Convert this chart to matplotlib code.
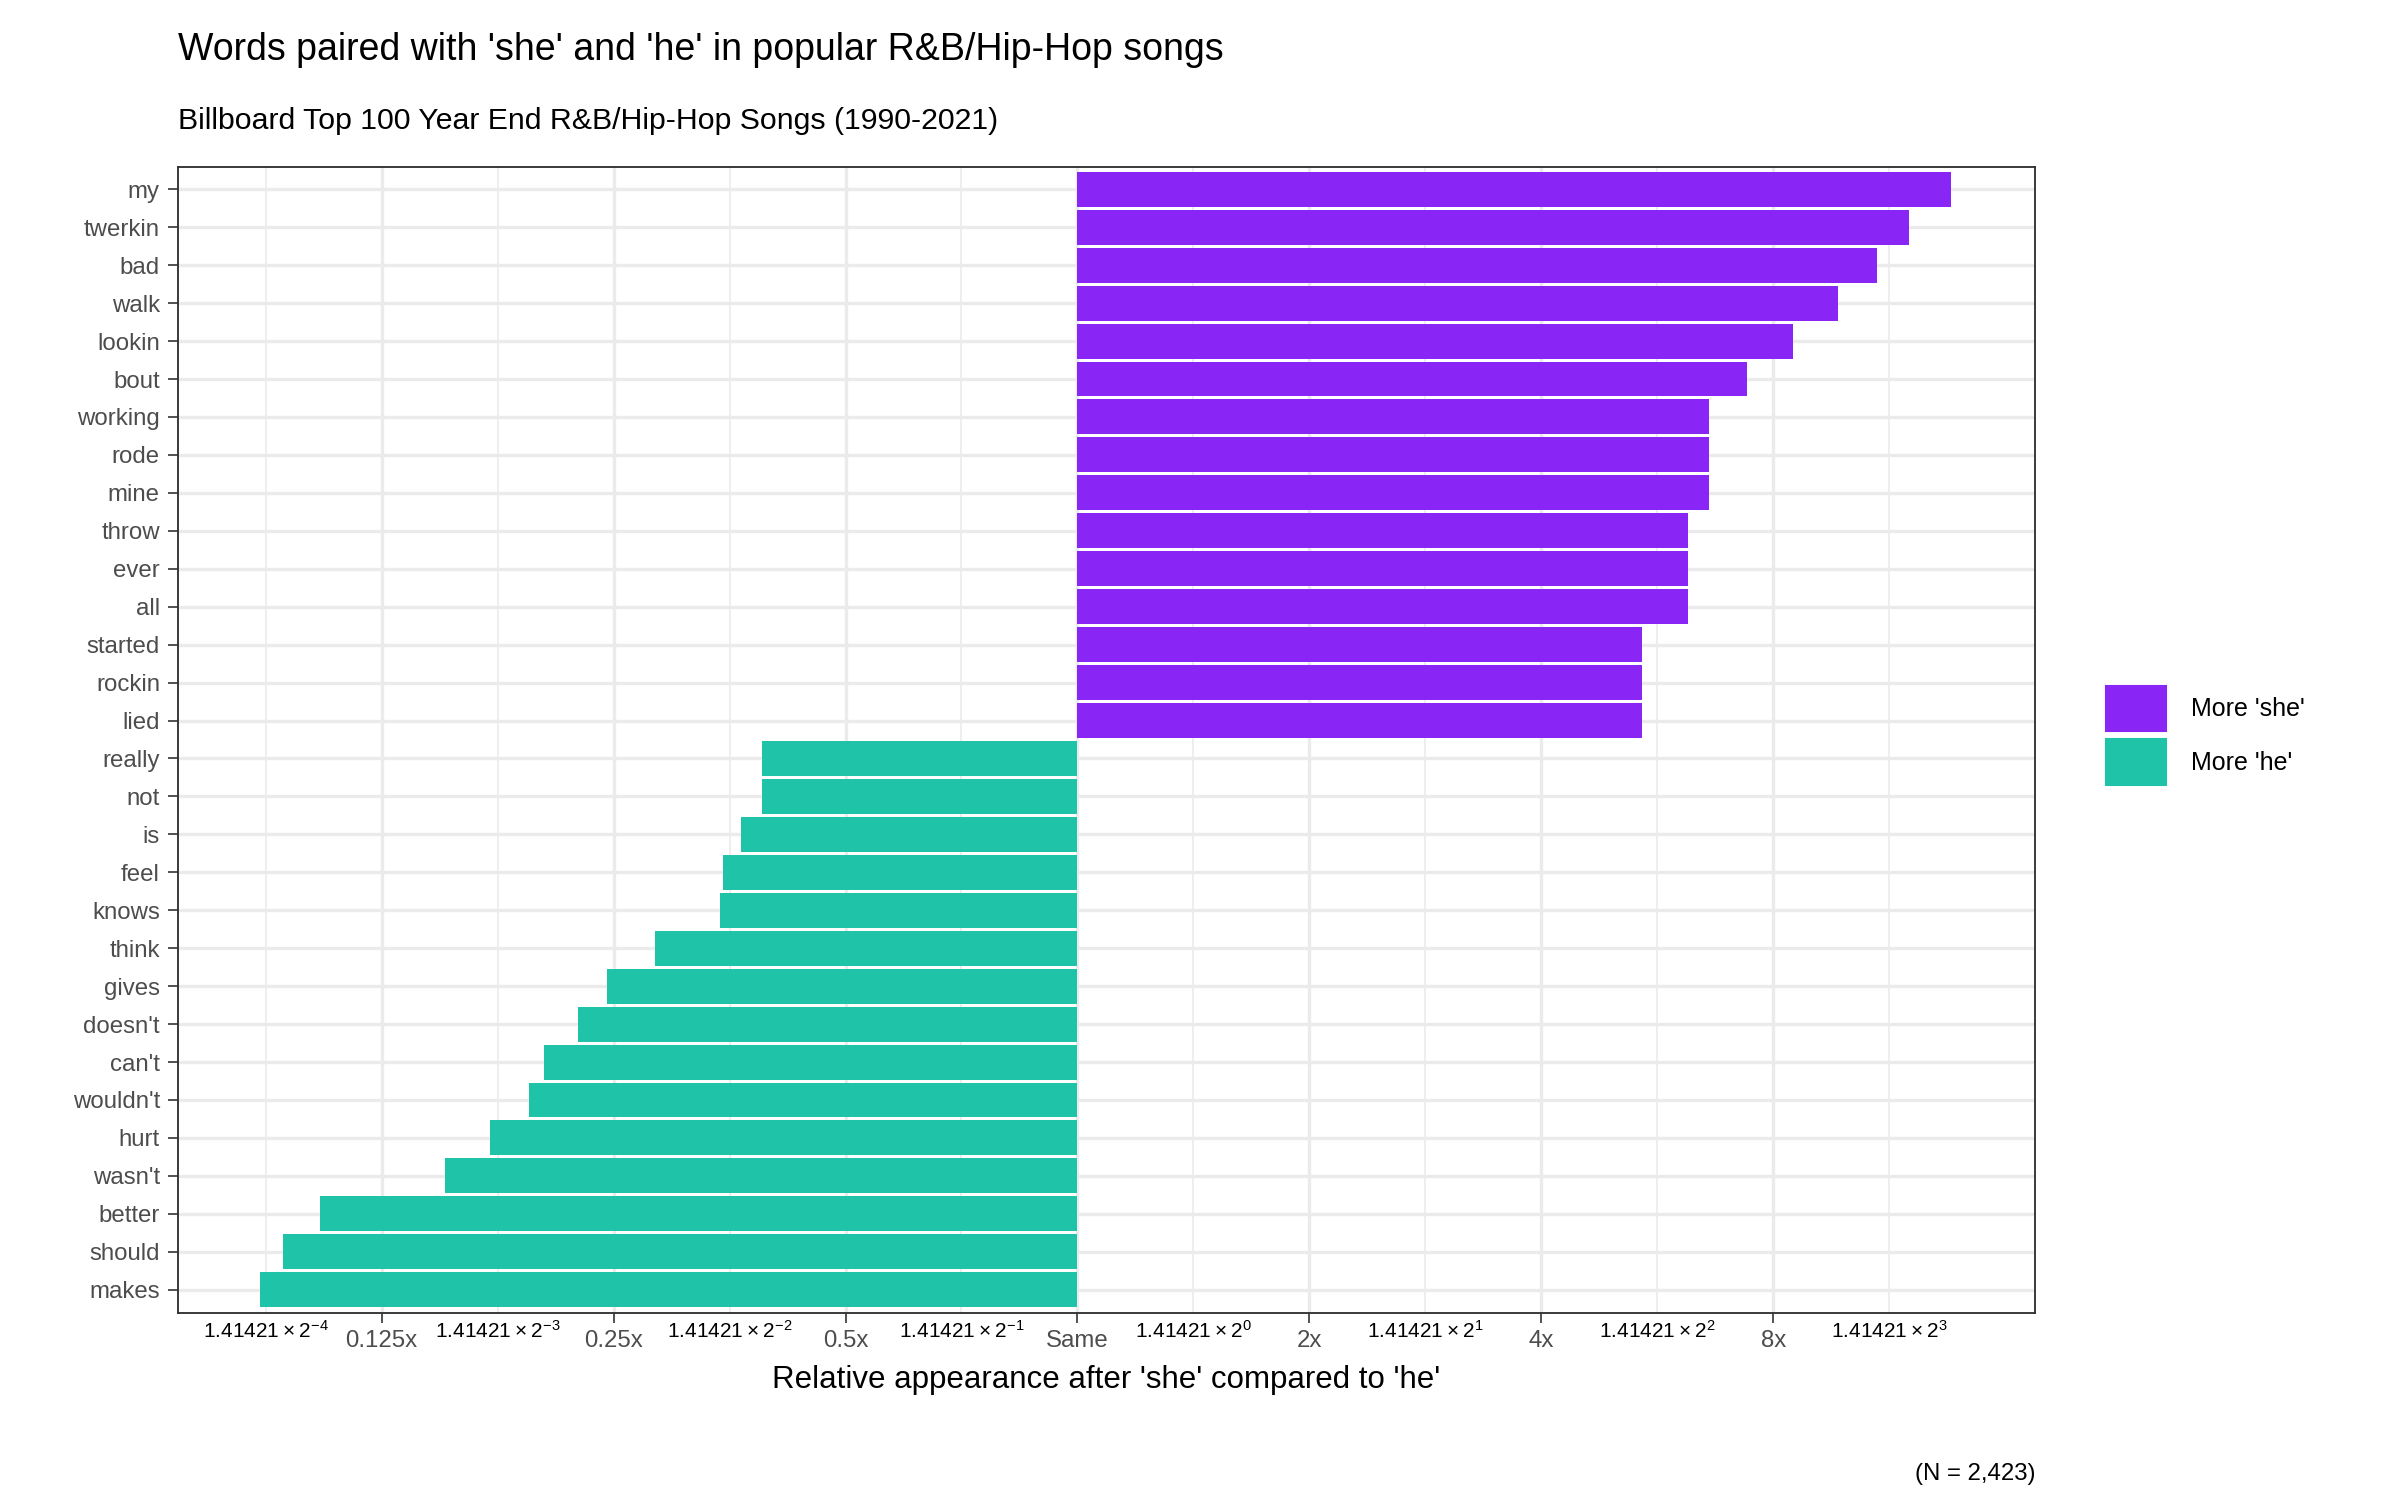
import numpy as np
import matplotlib.pyplot as plt
from matplotlib.patches import Patch
from matplotlib.ticker import FixedLocator

plt.rcParams['font.family'] = ['Liberation Sans', 'DejaVu Sans']

# --- Data (top to bottom) ---
words = ['my', 'twerkin', 'bad', 'walk', 'lookin', 'bout', 'working', 'rode', 'mine',
         'throw', 'ever', 'all', 'started', 'rockin', 'lied',
         'really', 'not', 'is', 'feel', 'knows', 'think', 'gives', "doesn't", "can't",
         "wouldn't", 'hurt', "wasn't", 'better', 'should', 'makes']
ratios = [13.6, 12.0, 10.9, 9.7, 8.5, 7.4, 6.6, 6.6, 6.6,
          6.2, 6.2, 6.2, 5.4, 5.4, 5.4,
          0.39, 0.39, 0.366, 0.347, 0.344, 0.283, 0.245, 0.225, 0.203,
          0.194, 0.173, 0.151, 0.104, 0.093, 0.087]
tick_vals = [0.125, 0.25, 0.5, 1, 2, 4, 8]
tick_labels = ['0.125x', '0.25x', '0.5x', 'Same', '2x', '4x', '8x']

she_col = '#8A26F5'
he_col = '#1FC3A8'

fig = plt.figure(figsize=(16, 10), dpi=150)
ax = fig.add_axes([0.074, 0.125, 0.774, 0.764])

ratios = np.array(ratios)
y = np.arange(len(words))[::-1]
colors = [she_col if r > 1 else he_col for r in ratios]
left = np.minimum(ratios, 1)
width = np.abs(ratios - 1)
ax.barh(y, width, left=left, height=0.92, color=colors, zorder=3)

ax.set_xscale('log', base=2)
ax.set_xlim(2 ** -3.88, 2 ** 4.13)
ax.set_ylim(-0.6, len(words) - 0.4)
ax.xaxis.set_major_locator(FixedLocator(tick_vals))
ax.set_xticks(tick_vals)
ax.set_xticklabels(tick_labels)
minor = [2 ** (k + 0.5) for k in range(-4, 5)]
ax.xaxis.set_minor_locator(FixedLocator(minor))
ax.set_yticks(y)
ax.set_yticklabels(words)
ax.tick_params(axis='both', which='major', labelsize=11.5, colors='#333333', length=5, width=0.8)
ax.tick_params(axis='x', which='minor', length=0)
for lab in ax.get_xticklabels() + ax.get_yticklabels():
    lab.set_color('#4d4d4d')

ax.grid(True, which='major', color='#EBEBEB', linewidth=1.6, zorder=0)
ax.grid(True, which='minor', axis='x', color='#EBEBEB', linewidth=0.8, zorder=0)
for s in ax.spines.values():
    s.set_color('#333333')
    s.set_linewidth(0.9)

ax.set_xlabel("Relative appearance after 'she' compared to 'he'", fontsize=15, labelpad=6)
fig.text(0.074, 0.955, "Words paired with 'she' and 'he' in popular R&B/Hip-Hop songs",
         fontsize=18, va='bottom')
fig.text(0.074, 0.91, "Billboard Top 100 Year End R&B/Hip-Hop Songs (1990-2021)",
         fontsize=14.5, va='bottom')
fig.text(0.848, 0.01, "(N = 2,423)", fontsize=11.5, ha='right', va='bottom')

handles = [Patch(color=she_col, label="More 'she'"), Patch(color=he_col, label="More 'he'")]
fig.legend(handles=handles, loc='center left', bbox_to_anchor=(0.868, 0.51), frameon=False,
           fontsize=12, handlelength=2.4, handleheight=2.4, labelspacing=0.35, handletextpad=1.0)

plt.savefig('out.png', dpi=150)
